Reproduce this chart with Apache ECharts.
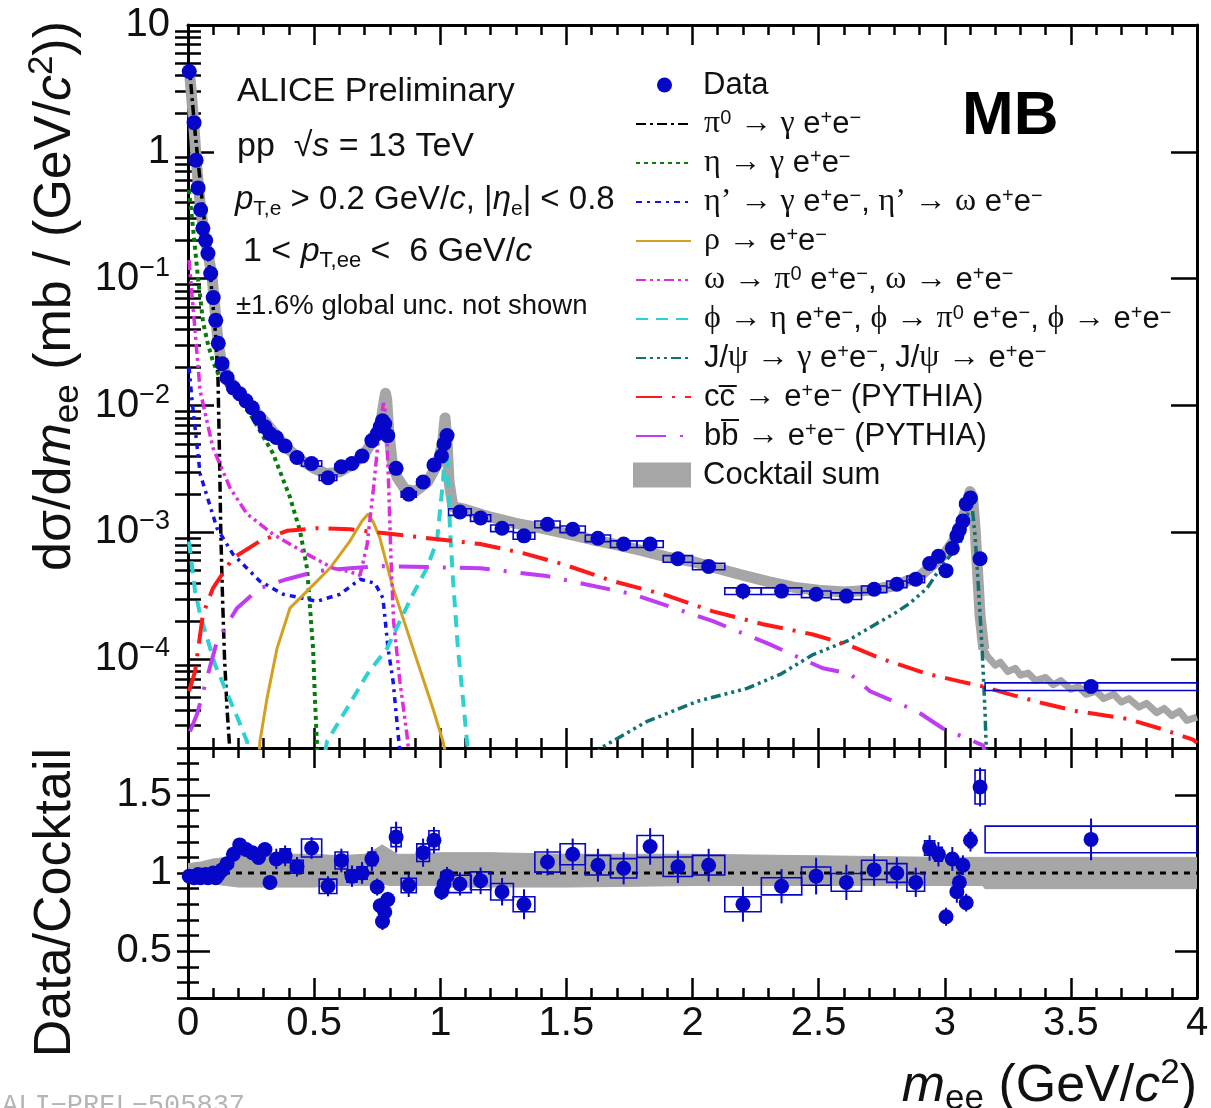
<!DOCTYPE html>
<html><head><meta charset="utf-8">
<script src="https://cdn.jsdelivr.net/npm/echarts@6/dist/echarts.min.js"></script>
<style>html,body{margin:0;padding:0;background:#fff}#c{width:1211px;height:1108px}</style>
</head><body><div id="c"></div>
<script>
// ---------------- data ----------------
const massX = [0.005,0.024,0.032,0.040,0.050,0.059,0.070,0.079,0.090,0.100,0.110,0.120,
  0.135,0.155,0.180,0.205,0.230,0.255,0.280,0.305,0.325,
  0.350,0.385,0.432,0.490,0.555,0.608,0.650,0.690,0.729,
  0.750,0.762,0.771,0.780,0.792,
  0.825,0.875,0.932,0.975,
  1.005,1.015,1.027,
  1.078,1.160,1.245,1.332,1.425,1.525,1.625,1.727,1.832,1.942,2.064,2.200,2.353,2.490,2.610,2.720,2.810,2.885,
  2.940,2.975,3.005,3.030,3.048,3.058,3.072,3.085,3.102,3.140,3.580];
const binHalf = [0.005,0.005,0.004,0.004,0.005,0.005,0.005,0.005,0.005,0.005,0.005,0.005,
  0.01,0.01,0.0125,0.0125,0.0125,0.0125,0.0125,0.01,0.01,
  0.015,0.02,0.025,0.04,0.035,0.025,0.02,0.02,0.015,
  0.008,0.005,0.005,0.005,0.006,
  0.02,0.03,0.025,0.02,
  0.008,0.005,0.005,
  0.045,0.04,0.045,0.043,0.05,0.05,0.05,0.052,0.052,0.058,0.064,0.072,0.08,0.058,0.06,0.05,0.04,0.035,
  0.02,0.015,0.012,0.01,0.008,0.008,0.007,0.007,0.008,0.02,0.42];
const dataYield = [4.3,1.7,0.86,0.52,0.35,0.25,0.20,0.158,0.11,0.071,0.047,0.031,
  0.0214,0.0166,0.0138,0.0124,0.0109,0.0096,0.0080,0.0068,0.0060,
  0.0056,0.0048,0.0039,0.0035,0.0027,0.0033,0.0035,0.0040,0.0053,
  0.0060,0.0068,0.0076,0.0072,0.0058,
  0.0032,0.0020,0.0025,0.0034,
  0.0040,0.0050,0.0058,
  0.00145,0.0013,0.00108,0.00094,0.00116,0.00106,0.00090,0.00081,0.00081,0.00062,0.00054,0.000345,0.000345,0.000326,0.000315,0.000357,0.000391,0.000428,
  0.00057,0.00065,0.00050,0.00075,0.00094,0.00105,0.00123,0.00168,0.00187,0.00062,0.000061];
const dataRatio = [0.98,0.97,0.98,0.99,0.97,0.98,0.99,0.97,0.98,1.00,0.97,0.99,
  1.02,1.06,1.12,1.18,1.15,1.13,1.10,1.15,0.94,
  1.09,1.11,1.04,1.16,0.915,1.08,0.98,1.00,1.09,
  0.91,0.79,0.69,0.75,0.83,
  1.23,0.92,1.13,1.21,
  0.88,0.93,0.98,
  0.93,0.95,0.88,0.80,1.07,1.12,1.05,1.03,1.17,1.04,1.05,0.80,0.915,0.98,0.94,1.02,1.00,0.94,
  1.16,1.12,0.72,1.09,0.88,0.94,1.05,0.81,1.21,1.55,1.215];
const statRel = [0.02,0.02,0.02,0.02,0.02,0.02,0.02,0.02,0.02,0.02,0.02,0.02,
  0.03,0.03,0.03,0.035,0.035,0.035,0.035,0.035,0.04,
  0.06,0.06,0.06,0.06,0.07,0.07,0.07,0.07,0.07,
  0.06,0.06,0.08,0.07,0.06,
  0.08,0.08,0.08,0.07,
  0.06,0.06,0.06,
  0.08,0.09,0.1,0.12,0.08,0.09,0.1,0.1,0.1,0.1,0.1,0.14,0.12,0.12,0.12,0.1,0.1,0.1,
  0.07,0.07,0.08,0.07,0.08,0.07,0.06,0.07,0.06,0.08,0.11];
const sysRel = [0.02,0.02,0.02,0.02,0.02,0.02,0.02,0.02,0.02,0.02,0.02,0.02,
  0.02,0.02,0.02,0.02,0.02,0.02,0.02,0.02,0.02,
  0.03,0.04,0.04,0.05,0.05,0.05,0.04,0.04,0.04,
  0.03,0.03,0.03,0.03,0.03,
  0.05,0.05,0.05,0.05,
  0.03,0.03,0.03,
  0.06,0.06,0.06,0.06,0.06,0.06,0.06,0.06,0.06,0.06,0.06,0.06,0.06,0.06,0.06,0.06,0.06,0.06,
  0.04,0.04,0.03,0.03,0.03,0.03,0.03,0.03,0.04,0.07,0.07];

const cocktailX = [0.005,0.02,0.035,0.05,0.065,0.08,0.095,0.11,0.12,0.135,0.16,0.2,0.25,0.3,0.35,0.4,0.45,0.5,0.55,0.6,0.65,0.7,0.74,0.765,0.778,0.783,0.788,0.795,0.81,0.83,0.86,0.9,0.95,0.99,1.01,1.019,1.026,1.035,1.05,1.1,1.2,1.3,1.4,1.5,1.6,1.7,1.8,1.9,2.0,2.1,2.2,2.3,2.4,2.5,2.6,2.7,2.8,2.9,2.95,3.0,3.04,3.07,3.09,3.1,3.11,3.12,3.13,3.14,3.155,3.17,3.2,3.22,3.25,3.28,3.3,3.33,3.36,3.4,3.43,3.46,3.5,3.53,3.56,3.6,3.63,3.67,3.7,3.73,3.77,3.8,3.84,3.87,3.9,3.93,3.96,4.0];
const cocktailY = [4.5,2.0,0.75,0.36,0.22,0.155,0.105,0.05,0.03,0.021,0.0163,0.0127,0.0098,0.0077,0.0058,0.0045,0.0037,0.0032,0.0029,0.0030,0.0034,0.0042,0.0055,0.0075,0.011,0.0125,0.011,0.0065,0.0035,0.0027,0.0022,0.0021,0.0025,0.0035,0.0052,0.0080,0.0055,0.0025,0.0016,0.00152,0.00132,0.00118,0.00108,0.00098,0.00088,0.0008,0.00072,0.00064,0.00059,0.00052,0.00046,0.00041,0.00037,0.00035,0.00034,0.00035,0.00038,0.00045,0.00055,0.00068,0.00088,0.00125,0.0017,0.0021,0.0019,0.0011,0.0005,0.00022,0.00012,0.000105,0.00009,0.000095,0.00008,0.000085,0.000075,0.000078,0.000068,0.000072,0.000063,0.000068,0.000058,0.000061,0.000053,0.000056,0.000049,0.000053,0.000046,0.000049,0.000042,0.000045,0.000038,0.000041,0.000036,0.000039,0.000033,0.000035];
const cocktailTailStart = 3.14;   // after the J/psi peak the sum is drawn as a thinner histogram

const pi0Curve = [[0.004,5],[0.03,1.3],[0.06,0.35],[0.09,0.1],[0.11,0.035],[0.119,0.016],[0.125,0.004],[0.13,0.001],[0.137,0.0003],[0.145,0.0001],[0.155,0.00004],[0.167,0.000018]];
const etaCurve = [[0.004,0.5],[0.02,0.25],[0.04,0.1],[0.06,0.045],[0.08,0.03],[0.1,0.022],[0.127,0.0165],[0.167,0.0135],[0.246,0.0086],[0.337,0.0042],[0.404,0.0019],[0.444,0.00103],[0.472,0.00052],[0.484,0.00025],[0.496,0.00012],[0.503,0.00005],[0.511,0.000022],[0.515,0.000015]];
const etapCurve = [[0.004,0.02],[0.016,0.011],[0.048,0.0029],[0.115,0.00108],[0.178,0.000675],[0.285,0.000413],[0.377,0.000326],[0.511,0.000287],[0.603,0.000326],[0.682,0.000428],[0.741,0.000398],[0.773,0.000303],[0.793,0.000122],[0.813,0.000067],[0.832,0.000027],[0.845,0.000015]];
const rhoCurve = [[0.28,0.000015],[0.285,0.0000225],[0.313,0.000049],[0.353,0.000122],[0.404,0.000253],[0.484,0.000364],[0.563,0.000524],[0.642,0.000855],[0.69,0.00123],[0.714,0.0014],[0.735,0.0012],[0.761,0.0009],[0.813,0.000364],[0.892,0.000122],[0.971,0.000041],[1.011,0.0000225],[1.03,0.000015]];
const omegaCurve = [[0.004,0.14],[0.028,0.039],[0.048,0.0131],[0.099,0.00465],[0.167,0.00224],[0.234,0.0014],[0.337,0.00097],[0.472,0.000675],[0.575,0.000523],[0.642,0.00049],[0.682,0.00046],[0.71,0.0008],[0.735,0.0022],[0.755,0.0055],[0.775,0.0105],[0.785,0.0085],[0.795,0.0025],[0.805,0.0006],[0.815,0.0002],[0.84,0.000067],[0.868,0.0000255],[0.88,0.000015]];
const phiCurve = [[0.004,0.00085],[0.028,0.000345],[0.048,0.000226],[0.107,0.000091],[0.198,0.000034],[0.234,0.0000225],[0.25,0.000015],[0.3,'-'],[0.53,0.000013],[0.551,0.0000225],[0.63,0.000041],[0.71,0.000076],[0.789,0.000122],[0.84,0.0002],[0.892,0.000326],[0.947,0.000524],[0.987,0.000855],[1.011,0.00255],[1.022,0.0055],[1.03,0.003],[1.039,0.00103],[1.051,0.000413],[1.07,0.000122],[1.09,0.000049],[1.106,0.0000225],[1.115,0.000014]];
const jpsiCurve = [[1.6,0.000015],[1.633,0.0000198],[1.82,0.0000324],[2.018,0.0000466],[2.216,0.000059],[2.347,0.000076],[2.478,0.000109],[2.612,0.000139],[2.731,0.000192],[2.795,0.000226],[2.862,0.000277],[2.93,0.000364],[2.993,0.000562],[3.06,0.00081],[3.085,0.0012],[3.1,0.0017],[3.11,0.0015],[3.12,0.00095],[3.132,0.000413],[3.148,0.000122],[3.16,0.000037],[3.164,0.000021],[3.168,0.000015]];
const ccbarCurve = [[0.004,0.000056],[0.028,0.00008],[0.059,0.000226],[0.099,0.000364],[0.178,0.000628],[0.285,0.000855],[0.392,0.00103],[0.511,0.00108],[0.642,0.00106],[0.773,0.00099],[1.158,0.00081],[1.328,0.000687],[1.487,0.000562],[1.685,0.000413],[1.883,0.000326],[2.081,0.000239],[2.28,0.000189],[2.478,0.000157],[2.612,0.000131],[2.743,0.000102],[2.93,0.000077],[3.06,0.000067],[3.152,0.000061],[3.259,0.000053],[3.39,0.000045],[3.524,0.000039],[3.722,0.000034],[3.853,0.0000285],[3.984,0.0000233],[4.0,0.000022]];
const bbbarCurve = [[0.008,0.000027],[0.036,0.000037],[0.115,0.000139],[0.194,0.000253],[0.285,0.000364],[0.392,0.000428],[0.511,0.000495],[0.642,0.000523],[0.773,0.000543],[1.158,0.000523],[1.423,0.000453],[1.764,0.000326],[2.081,0.0002],[2.307,0.000131],[2.517,0.000085],[2.624,0.000077],[2.704,0.000056],[2.89,0.000039],[2.993,0.0000285],[3.152,0.000021],[3.18,0.000012]];

const bandX = [0,0.05,0.1,0.15,0.2,0.3,0.4,0.5,0.6,0.7,0.74,0.77,0.8,0.83,0.9,1.0,1.05,1.2,1.5,2.0,2.5,3.0,3.1,3.15,3.16,3.5,4.0];
const bandLow = [0.95,0.95,0.93,0.92,0.91,0.91,0.91,0.91,0.92,0.92,0.92,0.93,0.92,0.92,0.92,0.92,0.91,0.91,0.91,0.92,0.92,0.92,0.92,0.92,0.90,0.90,0.90];
const bandHigh = [1.06,1.07,1.09,1.10,1.11,1.12,1.12,1.12,1.11,1.12,1.15,1.18,1.15,1.12,1.12,1.13,1.13,1.13,1.12,1.12,1.11,1.10,1.10,1.10,1.10,1.10,1.10];
const unityX = [0, 4];
const unityY = [1, 1];

const logMajorTicks = [1e-4,1e-3,1e-2,1e-1,1,10];
const logMinorTicks = [3e-5,4e-5,5e-5,6e-5,7e-5,8e-5,9e-5,2e-4,3e-4,4e-4,5e-4,6e-4,7e-4,8e-4,9e-4,2e-3,3e-3,4e-3,5e-3,6e-3,7e-3,8e-3,9e-3,0.02,0.03,0.04,0.05,0.06,0.07,0.08,0.09,0.2,0.3,0.4,0.5,0.6,0.7,0.8,0.9,2,3,4,5,6,7,8,9];
const ratioMajorTicks = [0.5,1,1.5];

// ---------------- styling ----------------
const FONT = 'Liberation Sans, Arial, Helvetica, sans-serif';
const SERIF = 'Liberation Serif, DejaVu Serif, serif';
const BLUE = '#0606c8';
const GREY = '#a6a6a6';
const AXLINE = {show:true, onZero:false, lineStyle:{color:'#000', width:3}};
const TICKSTYLE = {color:'#000', width:2.5};

const legendNames = {
  pi0:'{g|\u03c0}{sup|0} {g|\u2192} {g|\u03b3} e{sup|+}e{sup|\u2212}',
  eta:'{g|\u03b7} {g|\u2192} {g|\u03b3} e{sup|+}e{sup|\u2212}',
  etap:'{g|\u03b7\u2019} {g|\u2192} {g|\u03b3} e{sup|+}e{sup|\u2212}, {g|\u03b7\u2019} {g|\u2192} {g|\u03c9} e{sup|+}e{sup|\u2212}',
  rho:'{g|\u03c1} {g|\u2192} e{sup|+}e{sup|\u2212}',
  omega:'{g|\u03c9} {g|\u2192} {g|\u03c0}{sup|0} e{sup|+}e{sup|\u2212}, {g|\u03c9} {g|\u2192} e{sup|+}e{sup|\u2212}',
  phi:'{g|\u03d5} {g|\u2192} {g|\u03b7} e{sup|+}e{sup|\u2212}, {g|\u03d5} {g|\u2192} {g|\u03c0}{sup|0} e{sup|+}e{sup|\u2212}, {g|\u03d5} {g|\u2192} e{sup|+}e{sup|\u2212}',
  jpsi:'J/{g|\u03c8} {g|\u2192} {g|\u03b3} e{sup|+}e{sup|\u2212}, J/{g|\u03c8} {g|\u2192} e{sup|+}e{sup|\u2212}',
  ccbar:'cc\u0305 {g|\u2192} e{sup|+}e{sup|\u2212} (PYTHIA)',
  bbbar:'bb\u0305 {g|\u2192} e{sup|+}e{sup|\u2212} (PYTHIA)'
};
function legendText(pad) {
  return {fontFamily:FONT, fontSize:31, lineHeight:32, color:'#111', padding:[0,0,0,pad],
    rich:{
      sup:{fontFamily:FONT, fontSize:20, lineHeight:15, verticalAlign:'top', color:'#111'},
      g:{fontFamily:SERIF, fontSize:32, lineHeight:32, verticalAlign:'middle', color:'#111'}
    }};
}

function comp(name, data, color, dash, width) {
  return {name, type:'line', xAxisIndex:0, yAxisIndex:0, data, symbol:'none', showSymbol:false,
    clip:true, z:3, silent:true, connectNulls:false, color,
    lineStyle:{color, width: width || 3.5, type: dash}};
}
function boxSeries(xi, yi, vals) {
  return {type:'custom', xAxisIndex:xi, yAxisIndex:yi, z:4, silent:true, clip:true,
    encode:{x:0, y:1},
    data: massX.map((x,i)=>[x, vals[i], binHalf[i], sysRel[i]]),
    renderItem(params, api) {
      const x = api.value(0), y = api.value(1), hw = api.value(2), s = api.value(3);
      const a = api.coord([x-hw, y*(1+s)]), b = api.coord([x+hw, y*(1-s)]);
      return {type:'rect', shape:{x:a[0], y:a[1], width:b[0]-a[0], height:b[1]-a[1]},
        style:{fill:'none', stroke:BLUE, lineWidth:1.6}};
    }};
}
function errSeries(xi, yi, vals) {
  return {type:'custom', xAxisIndex:xi, yAxisIndex:yi, z:4, silent:true, clip:true,
    encode:{x:0, y:1},
    data: massX.map((x,i)=>[x, vals[i], statRel[i]]),
    renderItem(params, api) {
      const x = api.value(0), y = api.value(1), e = api.value(2);
      const a = api.coord([x, y*(1+e)]), b = api.coord([x, y*(1-e)]);
      return {type:'line', shape:{x1:a[0], y1:a[1], x2:b[0], y2:b[1]},
        style:{stroke:BLUE, lineWidth:2}};
    }};
}
const nameRich = {
  i:{fontFamily:FONT, fontSize:52, fontStyle:'italic', lineHeight:61, verticalAlign:'middle', color:'#111'},
  sub:{fontFamily:FONT, fontSize:35, lineHeight:24, verticalAlign:'bottom', color:'#111'},
  sup:{fontFamily:FONT, fontSize:35, lineHeight:30, verticalAlign:'top', color:'#111'}
};
function xAx(grid, pos, labels) {
  const ax = {gridIndex:grid, type:'value', min:0, max:4, interval:0.5, position:pos,
    axisLine:AXLINE, splitLine:{show:false}, minorSplitLine:{show:false},
    axisTick:{show:true, inside:true, length:20, lineStyle:TICKSTYLE},
    minorTick:{show:true, splitNumber:5, length:10, lineStyle:TICKSTYLE},
    axisLabel:{show:false}};
  if (labels) {
    ax.axisLabel = {show:true, fontFamily:FONT, fontSize:40, color:'#111', margin:6,
      showMinLabel:true, showMaxLabel:true, hideOverlap:false};
    ax.name = '{i|m}{sub|ee} (GeV/{i|c}{sup|2})';
    ax.nameLocation = 'end';
    ax.nameGap = 0;
    ax.nameMoveOverlap = false;
    ax.nameTextStyle = {fontFamily:FONT, fontSize:52, lineHeight:61, color:'#111', align:'right', verticalAlign:'top',
      padding:[58,0,0,0], rich:nameRich};
  }
  return ax;
}

const option = {
  animation:false,
  backgroundColor:'#fff',
  grid:[
    {left:188, top:25, width:1009, height:723, outerBoundsMode:'none', containLabel:false},
    {left:188, top:748, width:1009, height:250, outerBoundsMode:'none', containLabel:false}
  ],
  xAxis:[ xAx(0,'bottom',false), xAx(0,'top',false), xAx(1,'bottom',true), xAx(1,'top',false) ],
  yAxis:[
    {gridIndex:0, type:'log', logBase:10, min:2e-5, max:10, position:'left', axisLine:AXLINE, splitLine:{show:false},
      axisTick:{show:true, inside:true, length:26, customValues:logMajorTicks, lineStyle:TICKSTYLE},
      axisLabel:{show:true, customValues:logMajorTicks, fontFamily:FONT, fontSize:40, lineHeight:48, color:'#111', margin:18, hideOverlap:false,
        formatter:(v)=>{const e=Math.round(Math.log10(v)); if(e===1) return '10'; if(e===0) return '1'; return '10{sup|\u2212'+(-e)+'}';},
        rich:{sup:{fontFamily:FONT, fontSize:27, lineHeight:26, verticalAlign:'top', color:'#111'}}},
      name:'d\u03c3/d{i|m}{sub|ee} (mb / (GeV/{i|c}{sup|2}))', nameLocation:'end', nameGap:4, nameRotate:90, nameMoveOverlap:false,
      nameTextStyle:{fontFamily:FONT, fontSize:52, lineHeight:61, color:'#111', align:'right', verticalAlign:'bottom', padding:[0,0,102,0], rich:nameRich}},
    {gridIndex:0, type:'log', logBase:10, min:2e-5, max:10, position:'left', axisLine:{show:false}, splitLine:{show:false},
      axisTick:{show:true, inside:true, length:13, customValues:logMinorTicks, lineStyle:TICKSTYLE}, axisLabel:{show:false}},
    {gridIndex:0, type:'log', logBase:10, min:2e-5, max:10, position:'right', axisLine:AXLINE, splitLine:{show:false},
      axisTick:{show:true, inside:true, length:26, customValues:logMajorTicks, lineStyle:TICKSTYLE}, axisLabel:{show:false}},
    {gridIndex:0, type:'log', logBase:10, min:2e-5, max:10, position:'right', axisLine:{show:false}, splitLine:{show:false},
      axisTick:{show:true, inside:true, length:13, customValues:logMinorTicks, lineStyle:TICKSTYLE}, axisLabel:{show:false}},
    {gridIndex:1, type:'value', min:0.2, max:1.8, position:'left', axisLine:AXLINE, splitLine:{show:false},
      axisTick:{show:true, inside:true, length:22, customValues:ratioMajorTicks, lineStyle:TICKSTYLE},
      axisLabel:{show:true, customValues:ratioMajorTicks, fontFamily:FONT, fontSize:40, color:'#111', margin:16, hideOverlap:false},
      name:'Data/Cocktail', nameLocation:'end', nameGap:0, nameRotate:90, nameMoveOverlap:false,
      nameTextStyle:{fontFamily:FONT, fontSize:52, lineHeight:61, color:'#111', align:'right', verticalAlign:'bottom', padding:[0,0,102,0]}},
    {gridIndex:1, type:'value', min:0.2, max:1.8, interval:0.1, position:'left', axisLine:{show:false}, splitLine:{show:false},
      axisTick:{show:true, inside:true, length:11, lineStyle:TICKSTYLE}, axisLabel:{show:false}},
    {gridIndex:1, type:'value', min:0.2, max:1.8, position:'right', axisLine:AXLINE, splitLine:{show:false},
      axisTick:{show:true, inside:true, length:22, customValues:ratioMajorTicks, lineStyle:TICKSTYLE}, axisLabel:{show:false}},
    {gridIndex:1, type:'value', min:0.2, max:1.8, interval:0.1, position:'right', axisLine:{show:false}, splitLine:{show:false},
      axisTick:{show:true, inside:true, length:11, lineStyle:TICKSTYLE}, axisLabel:{show:false}}
  ],
  legend:[
    {data:[{name:'Data', icon:'circle'}], orient:'vertical', left:657, top:69, padding:0, itemWidth:55, itemHeight:15,
      selectedMode:false, itemStyle:{opacity:1}, textStyle:legendText(6)},
    {data:['pi0','eta','etap','rho','omega','phi','jpsi','ccbar','bbbar'], orient:'vertical', left:635, top:108, padding:0,
      itemWidth:55, itemHeight:14, itemGap:7, selectedMode:false, itemStyle:{opacity:0},
      formatter:(n)=>legendNames[n], textStyle:legendText(8)},
    {data:[{name:'Cocktail sum', icon:'rect'}], orient:'vertical', left:633, top:459, padding:0, itemWidth:58, itemHeight:25,
      selectedMode:false, textStyle:legendText(7)}
  ],
  graphic:[
    {type:'text', x:237, y:92, silent:true, style:{text:'ALICE Preliminary', fontFamily:FONT, fontSize:34, fill:'#111', verticalAlign:'middle'}},
    {type:'text', x:237, y:147, silent:true, style:{text:'pp  \u221a{i|s} = 13 TeV', fontFamily:FONT, fontSize:34, lineHeight:40, fill:'#111', verticalAlign:'middle',
      rich:{i:{fontFamily:FONT, fontSize:34, fontStyle:'italic', lineHeight:40, verticalAlign:'middle', fill:'#111'}}}},
    {type:'text', x:235, y:200, silent:true, style:{text:'{i|p}{sub|T,e} > 0.2 GeV/{i|c}, |{i|\u03b7}{sub|e}| < 0.8', fontFamily:FONT, fontSize:33, lineHeight:40, fill:'#111', verticalAlign:'middle',
      rich:{i:{fontFamily:FONT, fontSize:33, fontStyle:'italic', lineHeight:40, verticalAlign:'middle', fill:'#111'},
            sub:{fontFamily:FONT, fontSize:21, lineHeight:10, verticalAlign:'bottom', fill:'#111'}}}},
    {type:'text', x:243, y:252, silent:true, style:{text:'1 < {i|p}{sub|T,ee} <  6 GeV/{i|c}', fontFamily:FONT, fontSize:34, lineHeight:40, fill:'#111', verticalAlign:'middle',
      rich:{i:{fontFamily:FONT, fontSize:34, fontStyle:'italic', lineHeight:40, verticalAlign:'middle', fill:'#111'},
            sub:{fontFamily:FONT, fontSize:22, lineHeight:10, verticalAlign:'bottom', fill:'#111'}}}},
    {type:'text', x:236, y:306, silent:true, style:{text:'\u00b11.6% global unc. not shown', fontFamily:FONT, fontSize:27.5, fill:'#111', verticalAlign:'middle'}},
    {type:'text', x:962, y:117, silent:true, style:{text:'MB', fontFamily:FONT, fontSize:62, fontWeight:'bold', fill:'#000', verticalAlign:'middle'}},
    {type:'text', x:2, y:1092, silent:true, style:{text:'ALI\u2212PREL\u2212505837', fontFamily:'Liberation Mono, DejaVu Sans Mono, monospace', fontSize:27, fill:'#b5b5b5', verticalAlign:'top'}}
  ],
  series:[
    {name:'Cocktail sum', type:'line', xAxisIndex:0, yAxisIndex:0,
      data: cocktailX.map((x,i)=>[x, cocktailY[i]]).filter(p=>p[0] <= cocktailTailStart + 0.015),
      symbol:'none', showSymbol:false, clip:true, z:1, silent:true, color:GREY,
      lineStyle:{color:GREY, width:11, join:'round'}},
    {name:'Cocktail sum', type:'line', xAxisIndex:0, yAxisIndex:0,
      data: cocktailX.map((x,i)=>[x, cocktailY[i]]).filter(p=>p[0] >= cocktailTailStart),
      symbol:'none', showSymbol:false, clip:true, z:1, silent:true, color:GREY,
      lineStyle:{color:GREY, width:7, join:'round'}},
    comp('pi0', pi0Curve, '#000000', [10,4,3,4]),
    comp('eta', etaCurve, '#0a7a0a', [4,4], 4),
    comp('etap', etapCurve, '#1414e6', [6,5,3,5]),
    comp('rho', rhoCurve, '#d4a020', 'solid', 3),
    comp('omega', omegaCurve, '#dd2ddd', [10,4,3,4,3,4]),
    comp('phi', phiCurve, '#2fd0d0', [12,8], 4),
    comp('jpsi', jpsiCurve, '#127070', [10,4,3,4,3,4,3,4]),
    comp('ccbar', ccbarCurve, '#ff1a1a', [26,10,3,10], 4),
    comp('bbbar', bbbarCurve, '#c03cf2', [30,14,3,14], 4),
    boxSeries(0, 0, dataYield),
    errSeries(0, 0, dataYield),
    {name:'Data', type:'scatter', xAxisIndex:0, yAxisIndex:0, data: massX.map((x,i)=>[x, dataYield[i]]),
      symbol:'circle', symbolSize:15, z:5, silent:true, color:BLUE, itemStyle:{color:BLUE, opacity:1}},
    // ratio panel: cocktail uncertainty band
    {type:'custom', xAxisIndex:2, yAxisIndex:4, z:1, silent:true, clip:true, encode:{x:0, y:1},
      data: bandX.map((x,i)=>[x, bandLow[i], bandHigh[i]]),
      renderItem(params, api) {
        const i = params.dataIndex;
        if (i >= bandX.length - 1) return {type:'group', children:[]};
        const p = [api.coord([api.value(0), api.value(1)]), api.coord([bandX[i+1], bandLow[i+1]]),
                   api.coord([bandX[i+1], bandHigh[i+1]]), api.coord([api.value(0), api.value(2)])];
        return {type:'polygon', shape:{points:p}, style:{fill:GREY, stroke:GREY, lineWidth:1}};
      }},
    {type:'line', xAxisIndex:2, yAxisIndex:4, data: unityX.map((x,i)=>[x, unityY[i]]), symbol:'none', showSymbol:false,
      z:2, silent:true, lineStyle:{color:'#000', width:3, type:[6,6]}},
    boxSeries(2, 4, dataRatio),
    errSeries(2, 4, dataRatio),
    {type:'scatter', xAxisIndex:2, yAxisIndex:4, data: massX.map((x,i)=>[x, dataRatio[i]]),
      symbol:'circle', symbolSize:15, z:5, silent:true, itemStyle:{color:BLUE, opacity:1}}
  ]
};
const chart = echarts.init(document.getElementById('c'), null, {renderer:'canvas', width:1211, height:1108});
chart.setOption(option);
</script>
</body></html>
